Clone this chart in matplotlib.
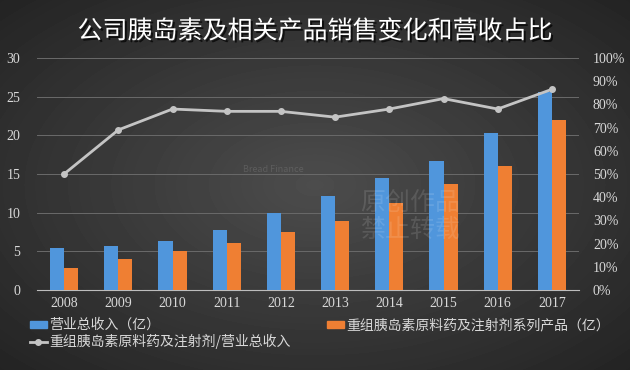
import numpy as np
import matplotlib
matplotlib.use("Agg")
import matplotlib.pyplot as plt
import matplotlib.patheffects as pe
from matplotlib.ticker import FuncFormatter, MultipleLocator
from matplotlib.lines import Line2D
from matplotlib.patches import Patch

plt.rcParams['font.family'] = ['Noto Sans CJK SC', 'DejaVu Sans']

years = ['2008', '2009', '2010', '2011', '2012', '2013', '2014', '2015', '2016', '2017']
revenue = [5.4, 5.7, 6.3, 7.8, 10.0, 12.1, 14.5, 16.7, 20.3, 25.6]          # 营业总收入（亿）
insulin_sales = [2.8, 4.05, 5.0, 6.1, 7.5, 8.9, 11.2, 13.7, 16.0, 22.0]     # 重组胰岛素系列产品（亿）
insulin_share = [0.50, 0.69, 0.78, 0.77, 0.77, 0.745, 0.78, 0.825, 0.78, 0.865]

title = "公司胰岛素及相关产品销售变化和营收占比"
label_rev = "营业总收入（亿）"
label_ins = "重组胰岛素原料药及注射剂系列产品（亿）"
label_share = "重组胰岛素原料药及注射剂/营业总收入"

blue = '#5096dc'
orange = '#ef7f33'
line_c = '#c4c4c4'
text_c = '#d9d9d9'
serif = ['Liberation Serif', 'DejaVu Serif']

fig = plt.figure(figsize=(6.3, 3.7), dpi=100)

# dark radial background
bg = fig.add_axes([0, 0, 1, 1])
yy, xx = np.mgrid[0:1:370j, 0:1:630j]
r = np.sqrt(((xx - 0.5) / 0.75) ** 2 + ((yy - 0.5) / 0.75) ** 2)
bg.imshow(0.30 - 0.17 * r, cmap='gray', vmin=0, vmax=1, aspect='auto', extent=[0, 1, 0, 1])
bg.axis('off')

ax = fig.add_axes([37 / 630, 80 / 370, 542 / 630, 232 / 370])
ax.patch.set_alpha(0)
x = np.arange(len(years))
w = 0.26
ax.bar(x - w / 2, revenue, w, color=blue, zorder=3)
ax.bar(x + w / 2, insulin_sales, w, color=orange, zorder=3)
ax.set_xlim(-0.5, len(years) - 0.5)
ax.set_ylim(0, 30)
ax.yaxis.set_major_locator(MultipleLocator(5))
ax.grid(axis='y', color='#6a6a6a', linewidth=0.7, zorder=0)
ax.set_xticks(x)
ax.set_xticklabels(years)
for s in ['top', 'right', 'left']:
    ax.spines[s].set_visible(False)
ax.spines['bottom'].set_color('#bdbdbd')
ax.tick_params(length=0, colors=text_c, labelsize=10, pad=5)
ax.tick_params(axis='y', pad=12)
for t in ax.get_xticklabels() + ax.get_yticklabels():
    t.set_family(serif)

ax2 = ax.twinx()
ax2.plot(x, insulin_share, color=line_c, linewidth=2, marker='o', markersize=4, zorder=4)
ax2.set_ylim(0, 1)
ax2.yaxis.set_major_locator(MultipleLocator(0.1))
ax2.yaxis.set_major_formatter(FuncFormatter(lambda v, p: f"{v * 100:.0f}%"))
for s in ax2.spines.values():
    s.set_visible(False)
ax2.tick_params(length=0, colors=text_c, labelsize=10, pad=10)
for t in ax2.get_yticklabels():
    t.set_family(serif)

# faint watermark text
fig.text(0.572, 0.415, "原创作品\n禁止转载", color='white', alpha=0.12, fontsize=18,
         ha='left', va='center', linespacing=1.0)
fig.text(0.385, 0.535, "Bread Finance", color='white', alpha=0.12, fontsize=6.5, ha='left')

fig.text(0.5, 0.915, title, color='white', fontsize=18, fontweight='medium', ha='center', va='center',
         path_effects=[pe.SimplePatchShadow(offset=(1.5, -1.5), shadow_rgbFace='black', alpha=0.7),
                       pe.Normal()])

handles = [Patch(color=blue),
           Line2D([], [], color=line_c, linewidth=2, marker='o', markersize=4),
           Patch(color=orange)]
labels = [label_rev, label_share, label_ins]
leg = fig.legend(handles, labels, ncol=2, loc='upper left', bbox_to_anchor=(30 / 630, 1 - 318 / 370),
                 frameon=False, fontsize=10, handlelength=1.2, handleheight=0.4, handletextpad=0.2,
                 columnspacing=2.6, labelspacing=0.15, borderpad=0, borderaxespad=0)
for t in leg.get_texts():
    t.set_color(text_c)

fig.savefig('out.png', dpi=100)
